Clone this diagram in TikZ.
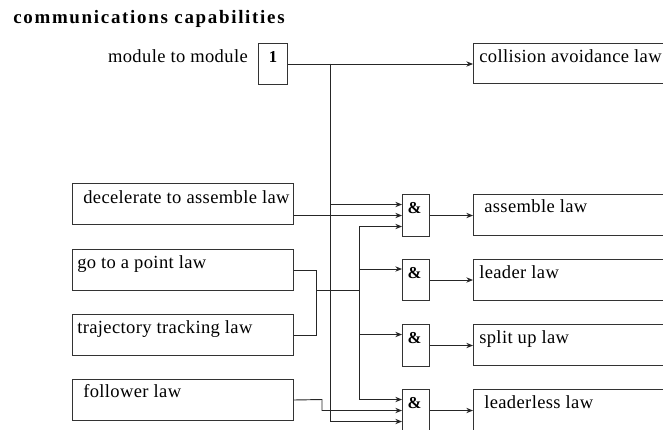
\documentclass[tikz,border=0pt]{standalone}
\usepackage{fontspec}
\setmainfont{Liberation Serif}[LetterSpace=2]
\newfontfamily\titlefont{Liberation Serif}[LetterSpace=9]
\usetikzlibrary{arrows.meta,calc}
\begin{document}
\begin{tikzpicture}[x=0.75pt,y=-0.75pt,
  box/.style={draw=black!80,line width=0.75pt,inner sep=0pt,anchor=north west},
  lbox/.style={box,minimum width=221*0.75pt,minimum height=41*0.75pt},
  rbox/.style={box,minimum width=240*0.75pt,minimum height=41*0.75pt},
  gate/.style={box,minimum width=27*0.75pt,minimum height=42*0.75pt},
  lbl/.style={anchor=base west,inner sep=0pt,font=\fontsize{13.9}{16}\selectfont},
  sym/.style={anchor=base,inner sep=0pt,font=\fontsize{12.5}{14}\selectfont\bfseries},
  ttl/.style={anchor=base west,inner sep=0pt,font=\titlefont\fontsize{14.2}{16}\selectfont\bfseries},
  ln/.style={draw=black!85,line width=0.7pt},
  arr/.style={ln,-{Stealth[length=5pt,width=4pt]}},
  ]
\useasboundingbox (0,0) rectangle (663,429);
\clip (0,0) rectangle (663,429);

% title
\node[ttl] (title) at (13,23) {communications capabilities};

% module to module
\node[lbl,anchor=base east] (mtm) at (248,62) {module to module};
\node[box,minimum width=29*0.75pt,minimum height=41*0.75pt] (one) at (258,43) {};
\node[sym] (onet) at ($(one.north)+(0,19)$) {1};

% left boxes
\node[lbox] (decel) at (72,183) {};
\node[lbox] (goto) at (72,249) {};
\node[lbox] (traj) at (72,314) {};
\node[lbox] (foll) at (72,379) {};
\node[lbl] (decelt) at ($(decel.north west)+(11,20)$) {decelerate to assemble law};
\node[lbl] (gotot) at ($(goto.north west)+(5,19)$) {go to a point law};
\node[lbl] (trajt) at ($(traj.north west)+(5,19)$) {trajectory tracking law};
\node[lbl] (follt) at ($(foll.north west)+(11,18)$) {follower law};

% gates
\node[gate] (g1) at (402,194) {};
\node[gate,minimum height=41*0.75pt] (g2) at (402,259) {};
\node[gate] (g3) at (402,324) {};
\node[gate] (g4) at (402,389) {};
\foreach \g in {g1,g2,g3,g4}{
  \node[sym] (\g t) at ($(\g.north)+(-1.5,19)$) {\&};
}

% right boxes
\node[rbox,minimum height=40*0.75pt] (coll) at (473,43) {};
\node[rbox] (asm) at (473,194) {};
\node[rbox] (lead) at (473,259) {};
\node[rbox] (split) at (473,324) {};
\node[rbox] (lless) at (473,389) {};
\node[lbl] (collt) at ($(coll.north west)+(6,19)$) {collision avoidance law};
\node[lbl] (asmt) at ($(asm.north west)+(11,18)$) {assemble law};
\node[lbl] (leadt) at ($(lead.north west)+(6,19)$) {leader law};
\node[lbl] (splitt) at ($(split.north west)+(6,19)$) {split up law};
\node[lbl] (llesst) at ($(lless.north west)+(11,19)$) {leaderless law};

% gate input points
\coordinate (g1a) at ($(g1.west)+(0,-11)$);
\coordinate (g1c) at ($(g1.west)+(0,11)$);
\coordinate (g2a) at ($(g2.west)+(0,-11)$);
\coordinate (g3a) at ($(g3.west)+(0,-11)$);
\coordinate (g4a) at ($(g4.west)+(0,-11)$);
\coordinate (g4c) at ($(g4.west)+(0,11)$);

% junctions
\coordinate (ja) at (330,63.5);
\coordinate (jb) at (359,290);
\coordinate (jc) at (316,290);
\coordinate (jd) at (322,399.5);

% module bus
\draw[arr] (one.east) -- (one.east -| coll.west);
\draw[arr] (ja) |- (g4c);
\draw[arr] (ja |- g1a) -- (g1a);

% decelerate
\draw[arr] (decel.east |- g1.west) -- (g1.west);

% go to point / trajectory bus
\draw[ln] (goto.east) -| (traj.east -| jc) -- (traj.east);
\draw[ln] (jc) -- (jb);
\draw[arr] (g4a -| jb) |- (g1c);
\draw[arr] (g2a -| jb) -- (g2a);
\draw[arr] (g3a -| jb) -- (g3a);
\draw[arr] (g4a -| jb) -- (g4a);

% follower
\draw[arr] (foll.east) -- (jd) |- (g4.west);

% outputs
\draw[arr] (g1.east) -- (g1.east -| asm.west);
\draw[arr] (g2.east) -- (g2.east -| lead.west);
\draw[arr] (g3.east) -- (g3.east -| split.west);
\draw[arr] (g4.east) -- (g4.east -| lless.west);
\end{tikzpicture}
\end{document}
